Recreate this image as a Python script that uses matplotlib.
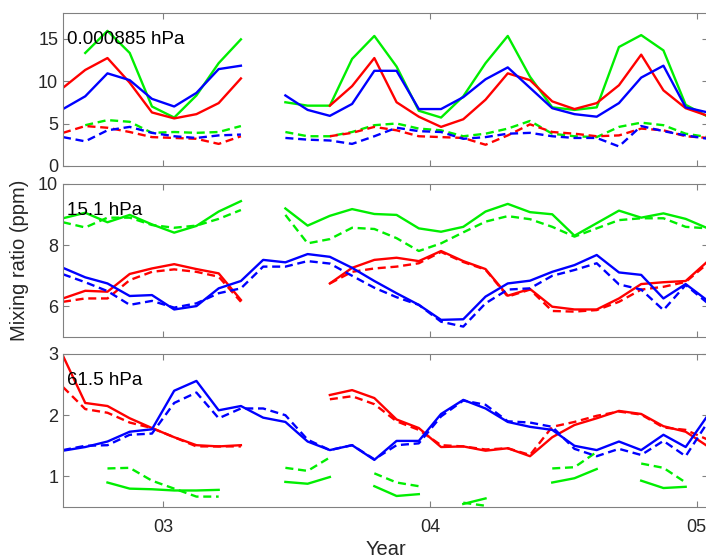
import numpy as np
import matplotlib
matplotlib.use("Agg")
import matplotlib.pyplot as plt

nan = np.nan

# monthly means, Aug 2002 .. Jan 2005 (mid-month)
months = np.arange(30)
time = 2002 + (7.5 + months) / 12

levels = ["0.000885 hPa", "15.1 hPa", "61.5 hPa"]

green_p1 = [nan, 13.3, 15.9, 13.3, 7.0, 5.7, 8.3, 12.1, 14.9, nan, 7.5, 7.1, 7.1, 12.6, 15.3,
            11.7, 6.5, 5.7, 8.2, 12.1, 15.3, 10.5, 6.9, 6.6, 6.9, 14.0, 15.4, 13.6, 7.2, 5.8]
green_p1_d = [nan, 4.8, 5.4, 5.2, 3.9, 4.0, 3.9, 4.0, 4.7, nan, 4.0, 3.5, 3.5, 4.0, 4.8,
              5.0, 4.4, 4.2, 3.5, 3.8, 4.4, 5.3, 3.8, 3.5, 3.4, 4.6, 5.1, 4.8, 3.8, 3.4]
red_p1 = [9.2, 11.3, 12.7, 9.8, 6.3, 5.6, 6.1, 7.4, 10.3, nan, nan, nan, 7.1, 9.4, 12.7,
          7.5, 5.8, 4.6, 5.5, 7.8, 10.9, 10.1, 7.6, 6.7, 7.4, 9.5, 13.1, 8.9, 6.8, 5.9]
red_p1_d = [3.9, 4.7, 4.5, 4.0, 3.4, 3.3, 3.2, 2.6, 3.5, nan, nan, nan, 3.5, 3.9, 4.6,
            4.2, 3.5, 3.4, 3.3, 2.5, 3.6, 4.9, 4.0, 3.8, 3.5, 3.6, 4.4, 4.2, 3.5, 3.3]
blue_p1 = [6.7, 8.2, 10.9, 10.1, 7.9, 7.0, 8.6, 11.4, 11.8, nan, 8.3, 6.6, 5.9, 7.3, 11.2,
           11.2, 6.7, 6.7, 8.1, 10.2, 11.6, 9.2, 6.8, 6.1, 5.8, 7.4, 10.4, 11.8, 6.9, 6.3]
blue_p1_d = [3.4, 2.9, 4.2, 4.6, 3.9, 3.5, 3.3, 3.6, 3.7, nan, 3.3, 3.1, 3.0, 2.6, 3.5,
             4.5, 4.1, 4.0, 3.2, 3.4, 3.8, 3.9, 3.5, 3.3, 3.3, 2.3, 4.7, 4.1, 3.6, 3.2]

green_p2 = [8.88, 9.06, 8.75, 8.99, 8.68, 8.41, 8.63, 9.1, 9.44, nan, 9.2, 8.64, 8.96, 9.18, 9.02,
            8.99, 8.55, 8.44, 8.6, 9.1, 9.35, 9.08, 9.01, 8.31, 8.72, 9.13, 8.9, 9.04, 8.86, 8.55]
green_p2_d = [8.75, 8.58, 8.9, 8.9, 8.66, 8.57, 8.64, 8.86, 9.15, nan, 8.99, 8.06, 8.2, 8.57, 8.53,
              8.23, 7.81, 8.06, 8.42, 8.77, 8.95, 8.85, 8.6, 8.28, 8.55, 8.82, 8.88, 8.88, 8.6, 8.55]
red_p2 = [6.26, 6.51, 6.48, 7.06, 7.24, 7.38, 7.22, 7.08, 6.21, nan, nan, nan, 6.75, 7.26, 7.52,
          7.59, 7.48, 7.81, 7.48, 7.22, 6.35, 6.57, 5.99, 5.9, 5.9, 6.26, 6.73, 6.79, 6.83, 7.48]
red_p2_d = [6.15, 6.26, 6.26, 6.86, 7.13, 7.21, 7.13, 6.97, 6.15, nan, nan, nan, 6.75, 7.13, 7.24,
            7.3, 7.41, 7.78, 7.45, 7.2, 6.32, 6.55, 5.85, 5.83, 5.88, 6.15, 6.55, 6.64, 6.8, 7.41]
blue_p2 = [7.26, 6.95, 6.75, 6.34, 6.37, 5.9, 6.01, 6.59, 6.83, 7.52, 7.44, 7.71, 7.62, 7.26, 6.83,
           6.43, 6.05, 5.56, 5.58, 6.32, 6.75, 6.84, 7.13, 7.35, 7.68, 7.11, 7.03, 6.26, 6.73, 6.18]
blue_p2_d = [7.05, 6.79, 6.5, 6.05, 6.18, 5.96, 6.1, 6.43, 6.59, 7.3, 7.3, 7.48, 7.4, 7.0, 6.61,
             6.3, 6.05, 5.5, 5.34, 6.1, 6.55, 6.59, 7.0, 7.19, 7.41, 6.72, 6.55, 5.88, 6.7, 6.1]

green_p3 = [nan, nan, 0.9, 0.8, 0.79, 0.77, 0.77, 0.78, nan, nan, 0.91, 0.88, 0.99, nan, 0.84,
            0.68, 0.71, nan, 0.55, 0.64, nan, nan, 0.9, 0.97, 1.12, nan, 0.93, 0.81, 0.83, nan]
green_p3_d = [nan, nan, 1.13, 1.14, 0.93, 0.8, 0.67, 0.67, nan, nan, 1.14, 1.09, 1.31, nan, 1.05,
              0.9, 0.84, nan, 0.57, 0.52, nan, nan, 1.13, 1.15, 1.4, nan, 1.21, 1.14, 0.9, nan]
red_p3 = [2.97, 2.2, 2.15, 1.95, 1.79, 1.64, 1.51, 1.49, 1.51, nan, nan, nan, 2.33, 2.41, 2.28,
          1.93, 1.79, 1.48, 1.49, 1.42, 1.46, 1.33, 1.64, 1.84, 1.95, 2.07, 2.02, 1.82, 1.73, 1.49]
red_p3_d = [2.46, 2.1, 2.04, 1.88, 1.79, 1.64, 1.49, 1.49, 1.49, nan, nan, nan, 2.26, 2.31, 2.18,
            1.9, 1.76, 1.51, 1.49, 1.44, 1.46, 1.35, 1.81, 1.89, 1.99, 2.06, 2.01, 1.8, 1.76, 1.6]
blue_p3 = [1.42, 1.48, 1.57, 1.73, 1.77, 2.4, 2.56, 2.08, 2.15, 1.96, 1.89, 1.57, 1.43, 1.51, 1.27,
           1.58, 1.58, 2.02, 2.25, 2.11, 1.89, 1.81, 1.76, 1.5, 1.43, 1.57, 1.43, 1.68, 1.48, 2.0]
blue_p3_d = [1.43, 1.5, 1.51, 1.68, 1.7, 2.2, 2.37, 1.95, 2.11, 2.11, 2.0, 1.6, 1.43, 1.51, 1.28,
             1.51, 1.54, 1.98, 2.24, 2.17, 1.9, 1.88, 1.81, 1.45, 1.33, 1.45, 1.35, 1.58, 1.33, 1.89]

panels = [
    (green_p1, green_p1_d, red_p1, red_p1_d, blue_p1, blue_p1_d),
    (green_p2, green_p2_d, red_p2, red_p2_d, blue_p2, blue_p2_d),
    (green_p3, green_p3_d, red_p3, red_p3_d, blue_p3, blue_p3_d),
]
ylims = [(0, 18), (5, 10), (0.5, 3)]
yticks = [[0, 5, 10, 15], [6, 8, 10], [1, 2, 3]]
xticks = [2003, 2004, 2005]
xticklabels = ["03", "04", "05"]

colors = ["#00ee00", "#00ee00", "#ff0000", "#ff0000", "#0000ff", "#0000ff"]

plt.rcParams["font.family"] = ["Liberation Sans", "DejaVu Sans"]
axis_gray = "#808080"
text_gray = "#262626"

fig = plt.figure(figsize=(7.06, 5.58), dpi=100)
# axes boxes in pixels: left, top, bottom (right edge runs just past the image)
W, H = 706, 558
left, right = 63, 708
boxes = [(13, 166), (184, 337), (354, 507)]

for k, (top, bot) in enumerate(boxes):
    ax = fig.add_axes([left / W, (H - bot) / H, (right - left) / W, (bot - top) / H])
    for j, series in enumerate(panels[k]):
        ls = "-" if j % 2 == 0 else (0, (3.4, 2.0))
        ax.plot(time, series, color=colors[j], lw=1.7, linestyle=ls)
    ax.set_xlim(2002.625, 2005.042)
    ax.set_ylim(*ylims[k])
    ax.set_yticks(yticks[k])
    ax.set_xticks(xticks)
    if k == 2:
        ax.set_xticklabels(xticklabels)
    else:
        ax.set_xticklabels([])
    ax.tick_params(direction="in", length=4.5, width=0.8, color=axis_gray,
                   labelcolor=text_gray, labelsize=13, top=True, right=True)
    ax.tick_params(axis="y", pad=3.5)
    ax.tick_params(axis="x", pad=9)
    for s in ax.spines.values():
        s.set_color(axis_gray)
        s.set_linewidth(0.8)
    ax.text(0.006, 0.83, levels[k], transform=ax.transAxes, ha="left", va="center",
            fontsize=13.5, color="black")
    if k == 2:
        ax.set_xlabel("Year", fontsize=14.5, color=text_gray, labelpad=2.5)

fig.text(20 / W, 1 - 260.5 / H, "Mixing ratio (ppm)", rotation=90, ha="center",
         va="center", fontsize=14.5, color=text_gray)

fig.savefig("out.png", dpi=100)
